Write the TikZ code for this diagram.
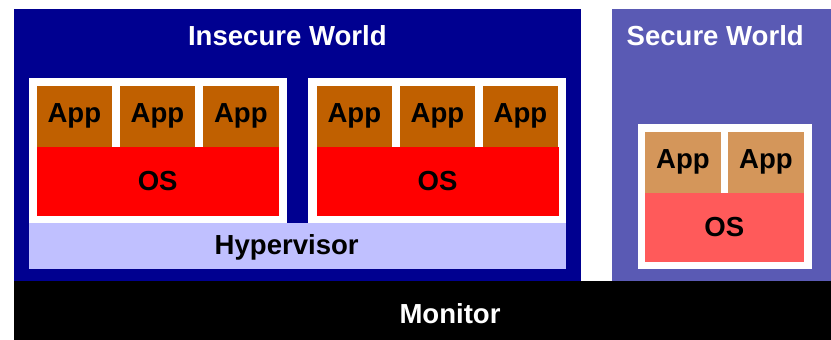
\documentclass[tikz,border=0pt]{standalone}
\usepackage{fontspec}
\setmainfont{Liberation Sans}

\definecolor{insecurecol}{HTML}{000090}
\definecolor{securecol}{HTML}{5A5AB4}
\definecolor{hypercol}{HTML}{C0C0FF}
\definecolor{appcol}{HTML}{C06000}
\definecolor{sappcol}{HTML}{D4965A}
\definecolor{oscol}{HTML}{FF0000}
\definecolor{soscol}{HTML}{FF5A5A}

\begin{document}
\begin{tikzpicture}[
  every node/.style={font=\fontsize{19.6}{22}\selectfont\bfseries, inner sep=0pt, outer sep=0pt},
  world/.style={minimum height=6.8cm},
  title/.style={text=white},
  vm/.style={fill=white, minimum height=3.64cm},
  app/.style={fill=appcol, minimum width=1.8875cm, minimum height=1.525cm},
  sapp/.style={app, fill=sappcol},
  os/.style={fill=oscol, minimum width=6.05cm, minimum height=1.725cm},
  ]
  \useasboundingbox (0,0) rectangle (20.775,8.5);

  % the two worlds and the monitor below them
  \node[world, fill=insecurecol, minimum width=14.175cm] (insecure) at (7.4375,4.875) {};
  \node[world, fill=securecol, minimum width=5.4825cm] (secure) at (18.034,4.875) {};
  \node[fill=black, minimum width=20.425cm, minimum height=1.475cm] (monitorbar) at (10.5625,0.7375) {};
  \node[title] (monitor) at (11.25,0.6675) {Monitor};
  \node[title] (insecuretitle) at (7.183,7.6125) {Insecure World};
  \node[title] (securetitle) at (17.88,7.6) {Secure World};

  % normal world: two guests on the hypervisor
  \node[fill=hypercol, minimum width=13.42cm, minimum height=1.15cm] (hypervisor) at (7.44,2.3425) {};
  \node[anchor=base] (hyperlabel) at (7.167,2.1425) {Hypervisor};
  \node[vm, minimum width=6.435cm] (vm1) at (3.95,4.7375) {};
  \node[vm, minimum width=6.435cm] (vm2) at (10.929,4.7375) {};
  \node[app] (app11) at (1.859,5.595) {App};
  \node[app] (app12) at (3.9375,5.595) {App};
  \node[app] (app13) at (6.021,5.595) {App};
  \node[os] (os1) at (3.9425,3.97) {OS};
  \node[app] (app21) at (8.859,5.595) {App};
  \node[app] (app22) at (10.9375,5.595) {App};
  \node[app] (app23) at (13.0125,5.595) {App};
  \node[os] (os2) at (10.9375,3.97) {OS};

  % secure side
  \node[vm, minimum width=4.35cm, minimum height=3.6325cm] (svm) at (18.1175,3.584) {};
  \node[sapp] (sapp1) at (17.075,4.445) {App};
  \node[sapp] (sapp2) at (19.15,4.445) {App};
  \node[os, fill=soscol, minimum width=3.9675cm, minimum height=1.74cm] (sos) at (18.109,2.8125) {OS};
\end{tikzpicture}
\end{document}
